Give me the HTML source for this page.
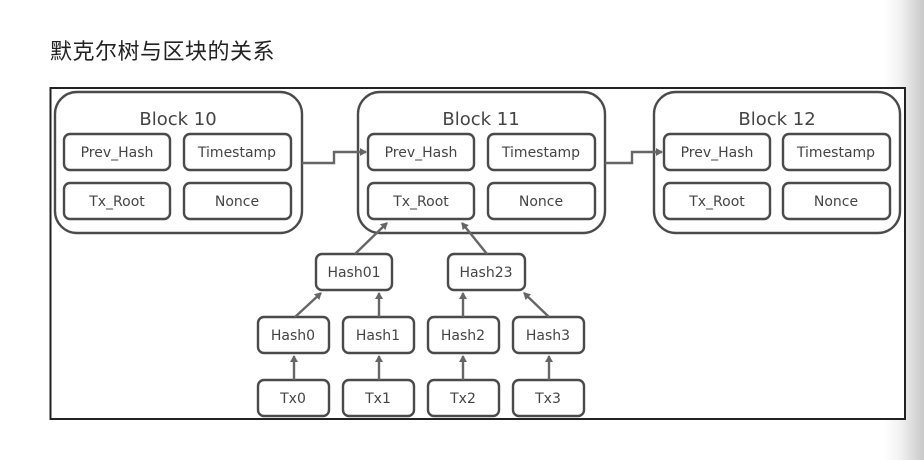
<!DOCTYPE html>
<html><head><meta charset="utf-8"><style>
html,body{margin:0;padding:0;background:#fff;}
body{width:924px;height:460px;position:relative;overflow:hidden;font-family:"Liberation Sans","Noto Sans CJK SC",sans-serif;}
.grad{position:absolute;left:884px;top:0;width:40px;height:460px;background:linear-gradient(to right,#fff,#f2f2f2 40%,#c8c8c8);}
.title{position:absolute;left:50px;top:34px;font-size:22px;color:#222;letter-spacing:0.5px;}
svg{position:absolute;left:0;top:0;}
</style></head><body>
<div class="grad"></div>
<div class="title">默克尔树与区块的关系</div>
<svg width="924" height="460" font-family="'DejaVu Sans','Liberation Sans',sans-serif" fill="none">
<defs><marker id="a" markerWidth="8" markerHeight="8" refX="6" refY="4" orient="auto" markerUnits="userSpaceOnUse"><path d="M0,0 L7,4 L0,8 Z" fill="#666"/></marker></defs>
<rect x="50.5" y="88" width="854.5" height="331" fill="#fff" stroke="#222" stroke-width="2"/>
<g stroke="#4a4a4a" stroke-width="2.4">
<rect x="55" y="92" width="247" height="141" rx="22"/>
<rect x="358" y="92" width="247" height="141" rx="22"/>
<rect x="654" y="92" width="246" height="141" rx="22"/>
</g>
<g stroke="#4a4a4a" stroke-width="2.4">
<rect x="64" y="134" width="106" height="36" rx="6"/><rect x="184" y="134" width="107" height="36" rx="6"/>
<rect x="64" y="183" width="106" height="36" rx="6"/><rect x="184" y="183" width="107" height="36" rx="6"/>
<rect x="368" y="134" width="106" height="36" rx="6"/><rect x="488" y="134" width="107" height="36" rx="6"/>
<rect x="368" y="183" width="106" height="36" rx="6"/><rect x="488" y="183" width="107" height="36" rx="6"/>
<rect x="664" y="134" width="106" height="36" rx="6"/><rect x="783" y="134" width="107" height="36" rx="6"/>
<rect x="664" y="183" width="106" height="36" rx="6"/><rect x="783" y="183" width="107" height="36" rx="6"/>
<rect x="316" y="254" width="76" height="36" rx="6"/><rect x="448" y="254" width="77" height="36" rx="6"/>
<rect x="258" y="317" width="71" height="36" rx="6"/><rect x="343" y="317" width="71" height="36" rx="6"/>
<rect x="428" y="317" width="71" height="36" rx="6"/><rect x="513" y="317" width="71" height="36" rx="6"/>
<rect x="258" y="380" width="71" height="36" rx="6"/><rect x="343" y="380" width="71" height="36" rx="6"/>
<rect x="428" y="380" width="71" height="36" rx="6"/><rect x="513" y="380" width="71" height="36" rx="6"/>
</g>
<g stroke="#666" stroke-width="2.4" marker-end="url(#a)">
<polyline points="302,163 334,163 334,152 366,152"/>
<polyline points="605,163 632,163 632,152 662,152"/>
<line x1="355" y1="254" x2="387" y2="223"/>
<line x1="487" y1="254" x2="462" y2="223"/>
<line x1="295" y1="317" x2="321" y2="293"/>
<line x1="379" y1="317" x2="379" y2="293"/>
<line x1="463" y1="317" x2="463" y2="293"/>
<line x1="549" y1="317" x2="524" y2="293"/>
<line x1="294" y1="380" x2="294" y2="356"/>
<line x1="379" y1="380" x2="379" y2="356"/>
<line x1="463" y1="380" x2="463" y2="356"/>
<line x1="549" y1="380" x2="549" y2="356"/>
</g>
<g fill="#444" text-anchor="middle" font-size="18">
<text x="178" y="125">Block 10</text><text x="481" y="125">Block 11</text><text x="777" y="125">Block 12</text>
</g>
<g fill="#444" text-anchor="middle" font-size="14">
<text x="117" y="157">Prev_Hash</text><text x="237" y="157">Timestamp</text><text x="117" y="206">Tx_Root</text><text x="237" y="206">Nonce</text>
<text x="421" y="157">Prev_Hash</text><text x="541" y="157">Timestamp</text><text x="421" y="206">Tx_Root</text><text x="541" y="206">Nonce</text>
<text x="717" y="157">Prev_Hash</text><text x="836" y="157">Timestamp</text><text x="717" y="206">Tx_Root</text><text x="836" y="206">Nonce</text>
<text x="354" y="277">Hash01</text><text x="486" y="277">Hash23</text>
<text x="293" y="340">Hash0</text><text x="378" y="340">Hash1</text><text x="463" y="340">Hash2</text><text x="548" y="340">Hash3</text>
<text x="293" y="403">Tx0</text><text x="378" y="403">Tx1</text><text x="463" y="403">Tx2</text><text x="548" y="403">Tx3</text>
</g>
</svg>
</body></html>
